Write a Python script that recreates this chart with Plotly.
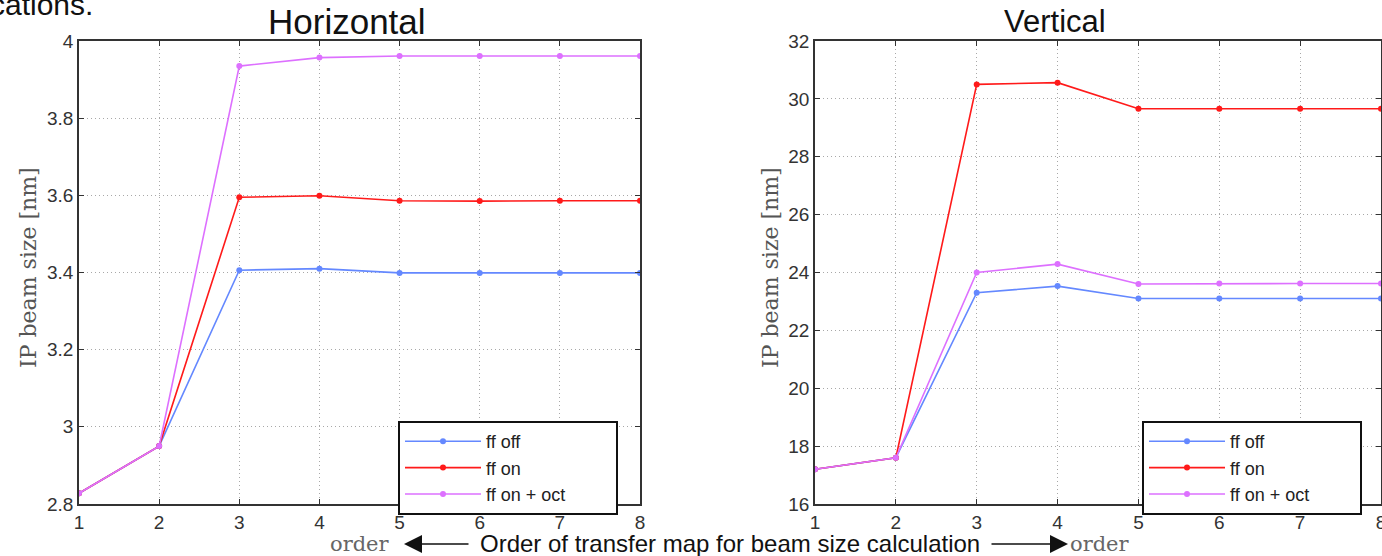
import plotly.graph_objects as go

order = [1, 2, 3, 4, 5, 6, 7, 8]

# Horizontal IP beam size [nm]
h_ff_off = [2.828, 2.950, 3.406, 3.410, 3.399, 3.399, 3.399, 3.399]
h_ff_on = [2.828, 2.950, 3.595, 3.599, 3.586, 3.585, 3.586, 3.586]
h_ff_oct = [2.828, 2.950, 3.935, 3.957, 3.961, 3.961, 3.961, 3.961]

# Vertical IP beam size [nm]
v_ff_off = [17.2, 17.6, 23.30, 23.53, 23.10, 23.10, 23.10, 23.10]
v_ff_on = [17.2, 17.6, 30.50, 30.56, 29.66, 29.66, 29.66, 29.66]
v_ff_oct = [17.2, 17.6, 24.00, 24.29, 23.60, 23.62, 23.62, 23.62]

names = ["ff off", "ff on", "ff on + oct"]
colors = ["#6488ff", "#ff1a1a", "#dd70ff"]

W, H = 1382, 556
def px(x):
    return x / W
def py(y):
    return 1 - y / H

PAD = "\u00a0" * 9  # widens the legend box like the reference

fig = go.Figure()
for vals, name, col in zip([h_ff_off, h_ff_on, h_ff_oct], names, colors):
    fig.add_trace(go.Scatter(x=order, y=vals, name=name + PAD, mode="lines+markers",
                             line=dict(color=col, width=1.6),
                             marker=dict(color=col, size=6),
                             xaxis="x", yaxis="y", legend="legend"))
for vals, name, col in zip([v_ff_off, v_ff_on, v_ff_oct], names, colors):
    fig.add_trace(go.Scatter(x=order, y=vals, name=name + PAD, mode="lines+markers",
                             line=dict(color=col, width=1.6),
                             marker=dict(color=col, size=6),
                             xaxis="x2", yaxis="y2", legend="legend2"))

axis_common = dict(showline=True, linecolor="#333", linewidth=1.5, mirror="ticks",
                   ticks="inside", ticklen=5, tickcolor="#333", automargin=False,
                   showgrid=True, gridcolor="#a8a8a8", griddash="1px,3px", gridwidth=1,
                   zeroline=False, ticklabeloverflow="allow",
                   tickfont=dict(family="Liberation Sans", size=19, color="#333"))

legend_common = dict(xanchor="left", yanchor="top",
                     bordercolor="#111", borderwidth=2, bgcolor="white",
                     font=dict(family="Liberation Sans", size=18, color="#222"),
                     itemwidth=76, tracegroupgap=0)

fig.update_layout(
    width=W, height=H,
    margin=dict(l=0, r=0, t=0, b=0),
    paper_bgcolor="white", plot_bgcolor="white",
    xaxis=dict(domain=[px(79), px(640)], range=[1, 8], dtick=1, anchor="y", **axis_common),
    yaxis=dict(domain=[py(504), py(41)], range=[2.8, 4.0], dtick=0.2, anchor="x", **axis_common),
    xaxis2=dict(domain=[px(815), px(1381)], range=[1, 8], dtick=1, anchor="y2", **axis_common),
    yaxis2=dict(domain=[py(504), py(41)], range=[16, 32], dtick=2, anchor="x2", **axis_common),
    legend=dict(x=px(398), y=py(421), **legend_common),
    legend2=dict(x=px(1142), y=py(421), **legend_common),
    showlegend=True,
)

ann = []
ann.append(dict(text="Horizontal", x=px(347), y=py(22), xref="paper", yref="paper",
                xanchor="center", yanchor="middle", showarrow=False,
                font=dict(family="Liberation Sans", size=35, color="#111")))
ann.append(dict(text="Vertical", x=px(1055), y=py(22), xref="paper", yref="paper",
                xanchor="center", yanchor="middle", showarrow=False,
                font=dict(family="Liberation Sans", size=31, color="#111")))
ann.append(dict(text="cations.", x=px(-12), y=py(5), xref="paper", yref="paper",
                xanchor="left", yanchor="middle", showarrow=False,
                font=dict(family="Liberation Sans", size=30, color="#111")))
for xc in (28, 770):
    ann.append(dict(text="IP beam size [nm]", x=px(xc), y=py(268), xref="paper", yref="paper",
                    xanchor="center", yanchor="middle", showarrow=False, textangle=-90,
                    font=dict(family="DejaVu Serif", size=22, color="#555")))
ann.append(dict(text="order", x=px(360), y=py(544), xref="paper", yref="paper",
                xanchor="center", yanchor="middle", showarrow=False,
                font=dict(family="DejaVu Serif", size=21, color="#666")))
ann.append(dict(text="order", x=px(1100), y=py(544), xref="paper", yref="paper",
                xanchor="center", yanchor="middle", showarrow=False,
                font=dict(family="DejaVu Serif", size=21, color="#666")))
ann.append(dict(text="Order of transfer map for beam size calculation", x=px(730), y=py(543),
                xref="paper", yref="paper", xanchor="center", yanchor="middle", showarrow=False,
                font=dict(family="Liberation Sans", size=24, color="#111")))
ann.append(dict(text="", x=px(404), y=py(544), xref="paper", yref="paper",
                showarrow=True, ax=66, ay=0, arrowhead=2, arrowsize=2.4, arrowwidth=1.5,
                arrowcolor="#111"))
ann.append(dict(text="", x=px(1068), y=py(544), xref="paper", yref="paper",
                showarrow=True, ax=-78, ay=0, arrowhead=2, arrowsize=2.4, arrowwidth=1.5,
                arrowcolor="#111"))
fig.update_layout(annotations=ann)

fig.write_html("out.html", config={"displayModeBar": False},
               post_script="document.body.style.margin='0';document.body.style.overflow='hidden';")
